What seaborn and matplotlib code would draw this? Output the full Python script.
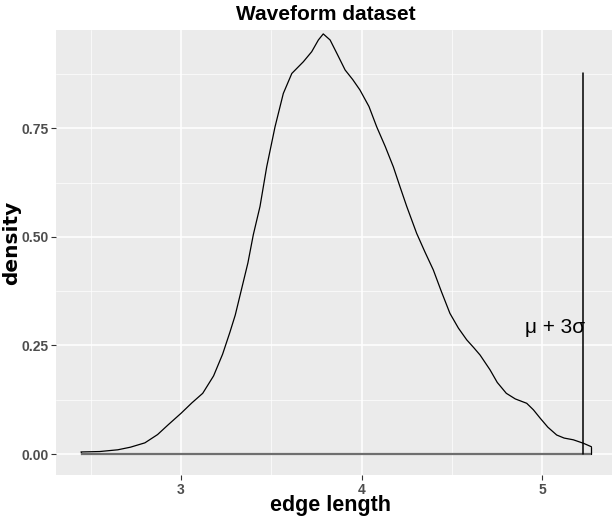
import matplotlib
matplotlib.use("Agg")
import matplotlib.pyplot as plt
import seaborn as sns
import pandas as pd
from matplotlib import font_manager

# --- data ---
edge_length = [2.446, 2.55, 2.65, 2.72, 2.80, 2.87, 2.93, 3.00, 3.06, 3.12, 3.18,
               3.23, 3.27, 3.30, 3.37, 3.40, 3.437, 3.474, 3.52, 3.566, 3.613, 3.677,
               3.723, 3.76, 3.787, 3.825, 3.865, 3.908, 3.95, 3.99, 4.04, 4.083,
               4.13, 4.175, 4.212, 4.249, 4.304, 4.35, 4.396, 4.44, 4.488, 4.535,
               4.581, 4.62, 4.655, 4.71, 4.75, 4.80, 4.85, 4.913, 4.95, 4.987,
               5.03, 5.079, 5.12, 5.171, 5.227, 5.271]
density = [0.005, 0.006, 0.010, 0.016, 0.026, 0.045, 0.068, 0.094, 0.118, 0.140, 0.180,
           0.230, 0.280, 0.320, 0.440, 0.505, 0.570, 0.661, 0.753, 0.830, 0.876, 0.903,
           0.926, 0.953, 0.967, 0.953, 0.920, 0.884, 0.862, 0.838, 0.800, 0.753,
           0.708, 0.661, 0.615, 0.570, 0.508, 0.465, 0.424, 0.375, 0.324, 0.290,
           0.263, 0.245, 0.228, 0.194, 0.165, 0.140, 0.127, 0.117, 0.102, 0.083,
           0.062, 0.044, 0.037, 0.033, 0.025, 0.017]
threshold_x = 5.227
threshold_top = 0.878
label_text = "μ + 3σ"
label_x, label_y = 5.07, 0.291
x_ticks = [3, 4, 5]
y_ticks = [0.00, 0.25, 0.50, 0.75]
y_tick_labels = ["0.00", "0.25", "0.50", "0.75"]

df = pd.DataFrame({"edge length": edge_length, "density": density})

sns.set_theme(style="darkgrid")
avail = {f.name for f in font_manager.fontManager.ttflist}
cond = "Liberation Sans Narrow" if "Liberation Sans Narrow" in avail else "Liberation Sans"
plt.rcParams["font.family"] = [cond, "DejaVu Sans"]

fig = plt.figure(figsize=(6.12, 5.18), dpi=100)
ax = fig.add_axes([56 / 612, 1 - 475 / 518, 1 - 56 / 612, (475 - 30) / 518])
ax.set_facecolor("#EBEBEB")

sns.lineplot(data=df, x="edge length", y="density", ax=ax, color="black",
             linewidth=0.9, sort=False, estimator=None)
# close the density polygon (ggplot geom_density outline)
ax.plot([edge_length[-1], edge_length[-1]], [density[-1], 0], color="black", lw=0.9)
ax.plot([edge_length[0], edge_length[0]], [density[0], 0], color="black", lw=0.9)
ax.plot([edge_length[0], edge_length[-1]], [0, 0], color="#6e6e6e", lw=1.6,
        solid_capstyle="butt")

ax.plot([threshold_x, threshold_x], [0, threshold_top], color="black", lw=1.1)
ax.text(label_x, label_y, label_text, fontsize=15, ha="center", va="center",
        color="black")

ax.set_xlim(2.308, 5.385)
ax.set_ylim(-0.048, 0.976)
ax.set_xticks(x_ticks)
ax.set_xticklabels([str(t) for t in x_ticks])
ax.set_yticks(y_ticks)
ax.set_yticklabels(y_tick_labels)
ax.set_xticks([2.5, 3.5, 4.5], minor=True)
ax.set_yticks([0.125, 0.375, 0.625, 0.875], minor=True)
ax.grid(which="major", color="white", linewidth=1.1)
ax.grid(which="minor", color="white", linewidth=0.5)
ax.set_axisbelow(True)
for s in ax.spines.values():
    s.set_visible(False)

ax.tick_params(axis="both", which="major", length=3.5, width=0.8, color="#333333",
               labelsize=10, labelcolor="#4D4D4D", pad=2, bottom=True, left=True)
ax.tick_params(axis="both", which="minor", length=0)
for lab in ax.get_xticklabels() + ax.get_yticklabels():
    lab.set_fontweight("bold")

ax.set_xlabel("")
ax.set_ylabel("")
fig.text(330 / 612, 1 - 506 / 518, "edge length", ha="center", va="center",
         fontsize=15.5, fontweight="bold", color="black")
fig.text(12 / 612, 1 - 243 / 518, "density", ha="center", va="center",
         rotation=90, fontsize=14.5, fontweight="bold", color="black",
         family=["DejaVu Sans"])
fig.text(326 / 612, 1 - 15 / 518, "Waveform dataset", ha="center", va="center",
         fontsize=15, fontweight="bold", color="black")

fig.savefig("out.png", dpi=100)
